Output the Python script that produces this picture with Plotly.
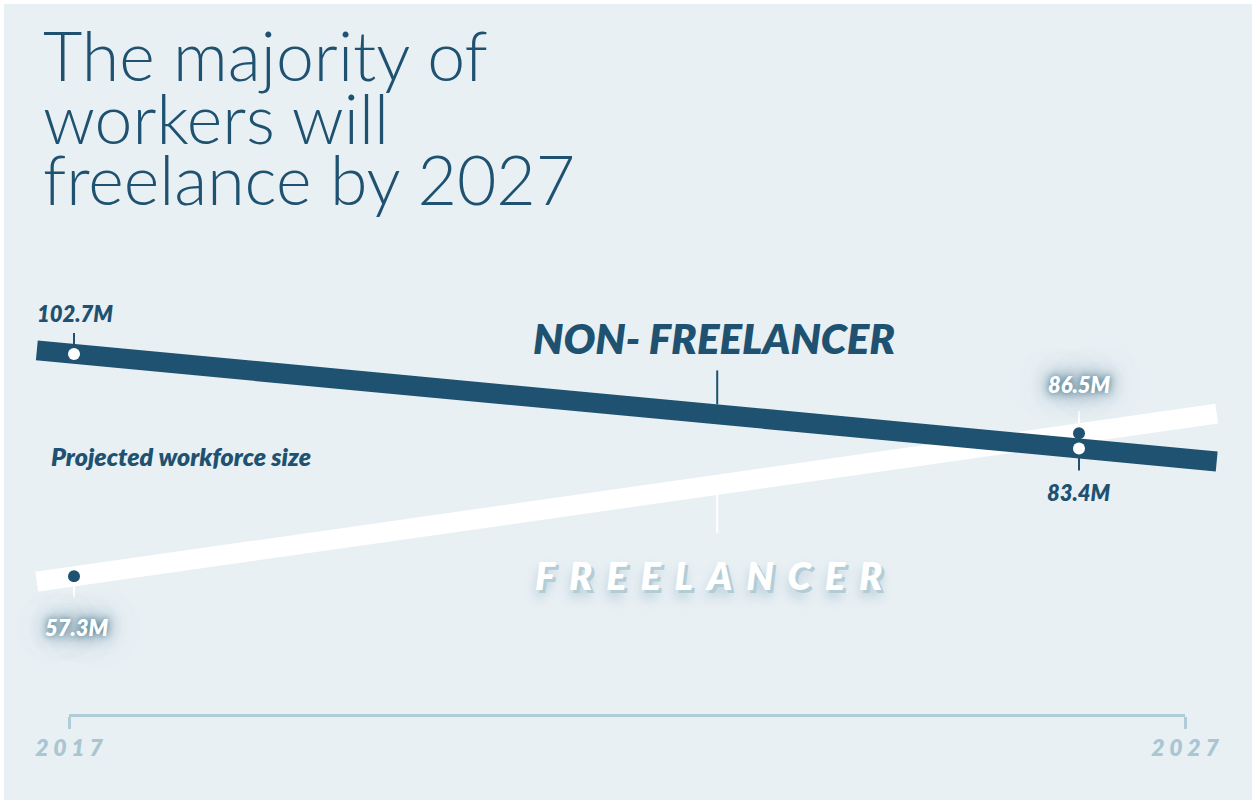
import plotly.graph_objects as go

# ---------------- data ----------------
years = [2017, 2027]
non_freelancer = [102.7, 83.4]      # millions
freelancer = [57.3, 86.5]           # millions
labels_non_freelancer = ["102.7M", "83.4M"]
labels_freelancer = ["57.3M", "86.5M"]
axis_years = [2017, 2027]
axis_ticktext = ["2 0 1 7", "2 0 2 7"]
title_lines = ["The majority of", "workers will", "freelance by 2027"]
series_names = ["NON- FREELANCER", "FREELANCER"]
subtitle = "Projected workforce size"

# ---------------- style ----------------
W, H = 1258, 804
DARK = "#1e5270"
BG = "#e9f0f4"
AXIS_COL = "#b0ccd6"
YEAR_COL = "#a9c6d1"
BAND = 20
EXT_LEFT, EXT_RIGHT = 0.37, 1.37     # how far the bands run past the data (years)
LABEL_YEAR = 2023.4                  # where the series name ticks touch the bands
LABEL_FONT = "Lato"
WIDE = "\u2004\u200a"                # letter spacing for the FREELANCER label


def slope(vals):
    return (vals[1] - vals[0]) / (years[1] - years[0])


def extended(vals):
    s = slope(vals)
    xs = [years[0] - EXT_LEFT, years[1] + EXT_RIGHT]
    ys = [vals[0] - s * EXT_LEFT, vals[1] + s * EXT_RIGHT]
    return xs, ys


def value_at(vals, x):
    return vals[0] + slope(vals) * (x - years[0])


fig = go.Figure()

fx, fy = extended(freelancer)
nx, ny = extended(non_freelancer)
fig.add_trace(go.Scatter(x=fx, y=fy, mode="lines", line=dict(color="white", width=BAND),
                         hoverinfo="skip", showlegend=False))
fig.add_trace(go.Scatter(x=nx, y=ny, mode="lines", line=dict(color=DARK, width=BAND),
                         hoverinfo="skip", showlegend=False))
fig.add_trace(go.Scatter(x=years, y=freelancer, mode="markers",
                         marker=dict(color=DARK, size=12, line=dict(width=0)),
                         name="Freelancer", showlegend=False))
fig.add_trace(go.Scatter(x=years, y=non_freelancer, mode="markers",
                         marker=dict(color="white", size=12, line=dict(width=0)),
                         name="Non-freelancer", showlegend=False))
# carrier trace for the bottom year axis
fig.add_trace(go.Scatter(x=axis_years, y=[None, None], xaxis="x2", yaxis="y2",
                         mode="lines", hoverinfo="skip", showlegend=False))

shapes = [
    dict(type="rect", xref="paper", yref="paper", x0=4 / W, x1=1 - 6 / W,
         y0=4 / H, y1=1 - 4 / H, fillcolor=BG, line=dict(width=0), layer="below"),
]


def tick(x, v, p0, p1, color):
    return dict(type="line", xref="x", yref="y", x0=x, x1=x, ysizemode="pixel",
                yanchor=v, y0=p0, y1=p1, line=dict(color=color, width=2))


shapes += [
    tick(years[0], non_freelancer[0], 8, 21, DARK),
    tick(years[1], non_freelancer[1], -7, -22, DARK),
    tick(years[1], freelancer[1], 9, 22, "white"),
    tick(years[0], freelancer[0], -6, -21, "white"),
    tick(LABEL_YEAR, value_at(non_freelancer, LABEL_YEAR), 10, 44, DARK),
    tick(LABEL_YEAR, value_at(freelancer, LABEL_YEAR), -10, -48, "white"),
]

bold_it = dict(family=LABEL_FONT, weight=800, style="italic")
glow = ("0px 0px 6px rgba(40,95,120,0.7), 0px 0px 14px rgba(55,105,130,0.6), "
        "0px 0px 24px rgba(70,120,145,0.55), 0px 0px 34px rgba(90,140,160,0.4)")

annotations = []
# title
for i, line in enumerate(title_lines):
    annotations.append(dict(
        text=line, xref="paper", yref="paper", x=41 / W, y=1 - (55 + 62 * i) / H,
        xanchor="left", yanchor="middle", showarrow=False,
        font=dict(family="Lato", weight=300, size=68, color=DARK)))
# subtitle
annotations.append(dict(
    text=subtitle, xref="paper", yref="paper", x=49 / W, y=1 - 456 / H,
    xanchor="left", yanchor="middle", showarrow=False,
    font=dict(size=25, color=DARK, **bold_it)))
# value labels
annotations += [
    dict(text=labels_non_freelancer[0], x=years[0], y=non_freelancer[0], yshift=40, xshift=1,
         showarrow=False, font=dict(size=22, color=DARK, **bold_it)),
    dict(text=labels_non_freelancer[1], x=years[1], y=non_freelancer[1], yshift=-44,
         showarrow=False, font=dict(size=22, color=DARK, **bold_it)),
    dict(text=labels_freelancer[1], x=years[1], y=freelancer[1], yshift=49,
         showarrow=False, font=dict(size=22, color="white", shadow=glow, **bold_it)),
    dict(text=labels_freelancer[0], x=years[0], y=freelancer[0], yshift=-51, xshift=3,
         showarrow=False, font=dict(size=22, color="white", shadow=glow, **bold_it)),
]
# series names
annotations += [
    dict(text=series_names[0], x=LABEL_YEAR, y=value_at(non_freelancer, LABEL_YEAR),
         yshift=76, xshift=-3, showarrow=False, font=dict(size=42, color=DARK, **bold_it)),
    dict(text=WIDE.join(series_names[1]), x=LABEL_YEAR, y=value_at(freelancer, LABEL_YEAR),
         yshift=-90, xshift=-9, showarrow=False,
         font=dict(size=38, color="white",
                   shadow="3px 3px 0px #b3cdd7, 0px 8px 12px rgba(110,155,175,0.45)", **bold_it)),
]
for a in annotations:
    a.setdefault("xref", "x")
    a.setdefault("yref", "y")
    a.setdefault("xanchor", "center")
    a.setdefault("yanchor", "middle")

# pixel-calibrated ranges (plot area = full figure)
PX_PER_YEAR = 100.5
X0_PX = 74
x_range = [years[0] - X0_PX / PX_PER_YEAR, years[0] + (W - X0_PX) / PX_PER_YEAR]
PX_PER_M = 4.9
Y_REF_V, Y_REF_PX = 82.475, 453
y_range = [Y_REF_V - (H - Y_REF_PX) / PX_PER_M, Y_REF_V + Y_REF_PX / PX_PER_M]

fig.update_layout(
    template="none",
    width=W, height=H,
    margin=dict(l=0, r=0, t=0, b=0, pad=0, autoexpand=False),
    paper_bgcolor="white",
    plot_bgcolor="rgba(0,0,0,0)",
    xaxis=dict(range=x_range, visible=False, domain=[0, 1], automargin=False),
    yaxis=dict(range=y_range, visible=False, domain=[0, 1], automargin=False),
    xaxis2=dict(domain=[69 / W, 1185 / W], range=[2017, 2027], anchor="free",
                position=1 - 715 / H, showline=True, linecolor=AXIS_COL, linewidth=2.5,
                ticks="outside", ticklen=12, tickwidth=2.5, tickcolor=AXIS_COL,
                tickvals=axis_years, ticktext=axis_ticktext, showgrid=False, zeroline=False,
                automargin=False,
                tickfont=dict(family=LABEL_FONT, size=23, color=YEAR_COL, weight=800,
                              style="italic")),
    yaxis2=dict(domain=[0, 1], range=[0, 1], visible=False, automargin=False),
    shapes=shapes,
    annotations=annotations,
    showlegend=False,
    hovermode=False,
)

fig.write_html("out.html",
               config={"displayModeBar": False},
               post_script="document.body.style.margin='0px';"
                           "document.body.style.overflow='hidden';")
